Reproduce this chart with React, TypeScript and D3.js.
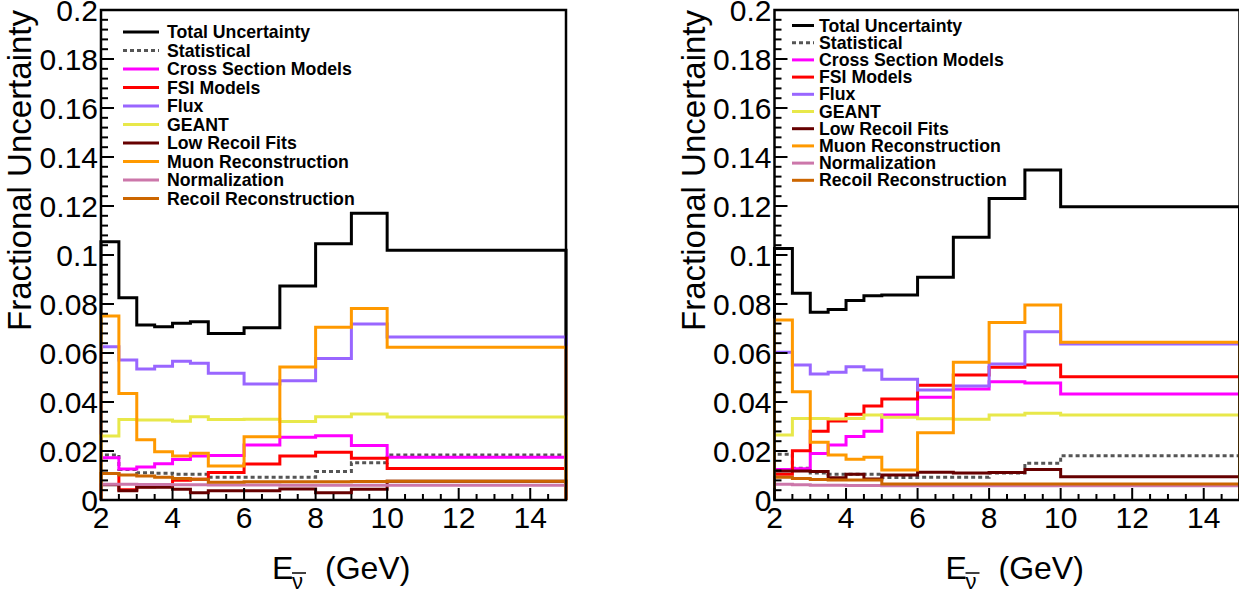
import React from "react";
import * as d3 from "d3";

// ---------------- data ----------------
const binEdges = [2, 2.5, 3, 3.5, 4, 4.5, 5, 6, 7, 8, 9, 10, 15];
const xTickValues = [2, 4, 6, 8, 10, 12, 14];
const xTickLabels = ["2", "4", "6", "8", "10", "12", "14"];
const yTickValues = [0, 0.02, 0.04, 0.06, 0.08, 0.1, 0.12, 0.14, 0.16, 0.18, 0.2];
const yTickLabels = ["0", "0.02", "0.04", "0.06", "0.08", "0.1", "0.12", "0.14", "0.16", "0.18", "0.2"];

const seriesNames = [
  "Total Uncertainty",
  "Statistical",
  "Cross Section Models",
  "FSI Models",
  "Flux",
  "GEANT",
  "Low Recoil Fits",
  "Muon Reconstruction",
  "Normalization",
  "Recoil Reconstruction",
];
const seriesColors = ["#000000", "#555555", "#FF00FF", "#FF0000", "#9966FF", "#E8E84A", "#660000", "#FF9900", "#CC77AA", "#CC6600"];

// left panel
const leftTotal = [0.1054, 0.0826, 0.0714, 0.0707, 0.0721, 0.0728, 0.068, 0.0703, 0.0873, 0.1046, 0.117, 0.1019];
const leftStat = [0.0184, 0.0125, 0.0111, 0.0109, 0.0105, 0.0105, 0.0093, 0.0093, 0.0093, 0.0116, 0.0152, 0.0184];
const leftXsec = [0.0172, 0.0127, 0.0135, 0.0148, 0.0165, 0.018, 0.0182, 0.0225, 0.0256, 0.0262, 0.0222, 0.0174];
const leftFSI = [0.0108, 0.0042, 0.0054, 0.0062, 0.0081, 0.0085, 0.0112, 0.0147, 0.018, 0.0195, 0.017, 0.0129];
const leftFlux = [0.0626, 0.0571, 0.0535, 0.0546, 0.0566, 0.0558, 0.0517, 0.0473, 0.0487, 0.0578, 0.0718, 0.0665];
const leftGeant = [0.0261, 0.0329, 0.0327, 0.0327, 0.0321, 0.034, 0.0329, 0.033, 0.032, 0.034, 0.0351, 0.0339];
const leftLowRecoil = [0.0062, 0.0038, 0.0052, 0.0052, 0.0044, 0.003, 0.0038, 0.0038, 0.0045, 0.003, 0.0044, 0.0077];
const leftMuon = [0.0751, 0.0435, 0.0246, 0.0197, 0.018, 0.0191, 0.0139, 0.0258, 0.0543, 0.0705, 0.0782, 0.0623];
const leftNorm = [0.0064, 0.0064, 0.0063, 0.0063, 0.0062, 0.0062, 0.0061, 0.0061, 0.006, 0.006, 0.006, 0.006];
const leftRecoil = [0.0108, 0.0102, 0.0098, 0.0093, 0.0088, 0.0085, 0.0072, 0.0075, 0.0075, 0.0075, 0.0076, 0.0077];

// right panel
const rightTotal = [0.1027, 0.0844, 0.0766, 0.0778, 0.0814, 0.0834, 0.0837, 0.0909, 0.1072, 0.1231, 0.1347, 0.1197];
const rightStat = [0.0187, 0.013, 0.011, 0.0105, 0.0105, 0.0105, 0.0092, 0.0093, 0.0093, 0.011, 0.015, 0.0181];
const rightXsec = [0.0125, 0.0128, 0.019, 0.0225, 0.0259, 0.0281, 0.0347, 0.0419, 0.0453, 0.0483, 0.0478, 0.0433];
const rightFSI = [0.0105, 0.0201, 0.0281, 0.0322, 0.035, 0.0384, 0.0412, 0.0468, 0.051, 0.0542, 0.0551, 0.0503];
const rightFlux = [0.0603, 0.0551, 0.0514, 0.0521, 0.0544, 0.0531, 0.0493, 0.0449, 0.0465, 0.0555, 0.0687, 0.0637];
const rightGeant = [0.0265, 0.0333, 0.0333, 0.0331, 0.0333, 0.0347, 0.0338, 0.0332, 0.033, 0.0347, 0.0354, 0.0347];
const rightLowRecoil = [0.0118, 0.0118, 0.0116, 0.0091, 0.0105, 0.0086, 0.0102, 0.0113, 0.011, 0.0112, 0.0125, 0.0095];
const rightMuon = [0.0735, 0.0442, 0.0236, 0.0184, 0.0166, 0.0174, 0.0122, 0.0274, 0.0562, 0.0725, 0.0796, 0.0644];
const rightNorm = [0.0064, 0.0062, 0.006, 0.006, 0.0059, 0.0059, 0.0058, 0.0058, 0.0058, 0.0058, 0.0058, 0.0058];
const rightRecoil = [0.0093, 0.0088, 0.0084, 0.0082, 0.0082, 0.0082, 0.0065, 0.0065, 0.0065, 0.0065, 0.0065, 0.0065];

const leftSeries = [leftTotal, leftStat, leftXsec, leftFSI, leftFlux, leftGeant, leftLowRecoil, leftMuon, leftNorm, leftRecoil];
const rightSeries = [rightTotal, rightStat, rightXsec, rightFSI, rightFlux, rightGeant, rightLowRecoil, rightMuon, rightNorm, rightRecoil];

// ---------------- layout ----------------
const W = 1239;
const H = 594;
const FONT = "'Liberation Sans', Arial, Helvetica, sans-serif";
const PLOT_TOP = 10;
const PLOT_BOTTOM = 500;
const PLOT_W = 465;

type LegendLayout = { lineX0: number; lineX1: number; textX: number; y0: number; dy: number };

function Panel({ x0, series, legend }: { x0: number; series: number[][]; legend: LegendLayout }) {
  const x = d3.scaleLinear().domain([2, 15]).range([x0, x0 + PLOT_W]);
  const y = d3.scaleLinear().domain([0, 0.2]).range([PLOT_BOTTOM, PLOT_TOP]);

  const stepPath = (vals: number[]) => {
    const pts: [number, number][] = [[binEdges[0], 0]];
    vals.forEach((v, i) => {
      pts.push([binEdges[i], v]);
      pts.push([binEdges[i + 1], v]);
    });
    pts.push([binEdges[binEdges.length - 1], 0]);
    const line = d3
      .line<[number, number]>()
      .x((d) => x(d[0]))
      .y((d) => y(d[1]));
    return line(pts) || "";
  };

  const yMinor = d3.range(0, 0.2001, 0.004);
  const xMinor = d3.range(2, 15.001, 0.5);

  return (
    <g>
      {/* histograms */}
      {series.map((vals, i) => (
        <path
          key={i}
          d={stepPath(vals)}
          fill="none"
          stroke={seriesColors[i]}
          strokeWidth={3}
          strokeDasharray={i === 1 ? "4,3" : undefined}
          strokeLinejoin="miter"
        />
      ))}
      {/* frame */}
      <rect x={x0} y={PLOT_TOP} width={PLOT_W} height={PLOT_BOTTOM - PLOT_TOP} fill="none" stroke="#000" strokeWidth={2.5} />
      {/* y ticks */}
      {yMinor.map((v, i) => {
        const major = i % 5 === 0;
        return <line key={"ym" + i} x1={x0} x2={x0 + (major ? 13 : 7)} y1={y(v)} y2={y(v)} stroke="#000" strokeWidth={2} />;
      })}
      {yTickValues.map((v, i) => (
        <text key={"yl" + i} x={x0 - 3} y={y(v) + 11} textAnchor="end" fontSize={30} fontFamily={FONT} fill="#000">
          {yTickLabels[i]}
        </text>
      ))}
      {/* x ticks */}
      {xMinor.map((v, i) => {
        const major = i % 4 === 0;
        return <line key={"xm" + i} x1={x(v)} x2={x(v)} y1={PLOT_BOTTOM} y2={PLOT_BOTTOM - (major ? 12 : 6)} stroke="#000" strokeWidth={2} />;
      })}
      {xTickValues.map((v, i) => (
        <text key={"xl" + i} x={x(v)} y={528} textAnchor="middle" fontSize={30} fontFamily={FONT} fill="#000">
          {xTickLabels[i]}
        </text>
      ))}
      {/* y title */}
      <text
        transform={`translate(${x0 - 70},${PLOT_TOP}) rotate(-90)`}
        textAnchor="end"
        fontSize={33}
        fontFamily={FONT}
        fill="#000"
      >
        Fractional Uncertainty
      </text>
      {/* x title */}
      <text x={x0 + 171} y={579} fontSize={32} fontFamily={FONT} fill="#000">E</text>
      <text x={x0 + 191} y={589} fontSize={22} fontFamily={FONT} fill="#000">ν</text>
      <line x1={x0 + 191} x2={x0 + 205} y1={573} y2={573} stroke="#000" strokeWidth={1.5} />
      <text x={x0 + 224} y={579} fontSize={32} fontFamily={FONT} fill="#000">(GeV)</text>
      {/* legend */}
      {seriesNames.map((name, i) => {
        const cy = legend.y0 + i * legend.dy;
        return (
          <g key={"lg" + i}>
            <line
              x1={legend.lineX0}
              x2={legend.lineX1}
              y1={cy}
              y2={cy}
              stroke={seriesColors[i]}
              strokeWidth={3}
              strokeDasharray={i === 1 ? "4,3" : undefined}
            />
            <text x={legend.textX} y={cy + 6} fontSize={17.7} fontWeight="bold" fontFamily={FONT} fill="#000">
              {name}
            </text>
          </g>
        );
      })}
    </g>
  );
}

export default function App() {
  return (
    <svg
      width={W}
      height={H}
      viewBox={`0 0 ${W} ${H}`}
      style={{ position: "absolute", left: 0, top: 0, background: "#fff" }}
    >
      <rect x={0} y={0} width={W} height={H} fill="#fff" />
      <Panel x0={101} series={leftSeries} legend={{ lineX0: 123, lineX1: 159, textX: 167, y0: 32, dy: 18.5 }} />
      <Panel x0={774.5} series={rightSeries} legend={{ lineX0: 792, lineX1: 814, textX: 819, y0: 25.5, dy: 17.2 }} />
    </svg>
  );
}
